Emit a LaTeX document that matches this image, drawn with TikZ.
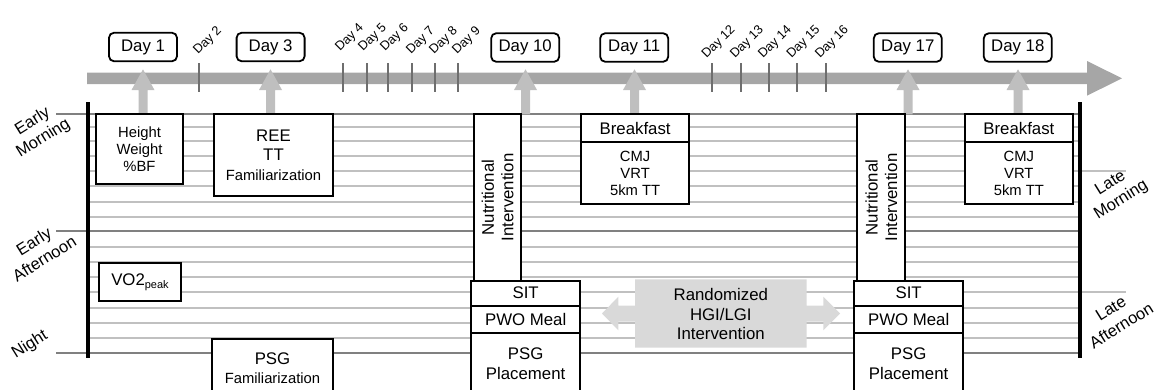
\documentclass[tikz,border=0pt]{standalone}
\usepackage{fontspec}
\setmainfont{Liberation Sans}
\definecolor{gridDark}{RGB}{128,128,128}
\definecolor{gridLight}{RGB}{192,192,192}
\definecolor{bandc}{RGB}{166,166,166}
\definecolor{upc}{RGB}{191,191,191}
\definecolor{rndc}{RGB}{217,217,217}
\definecolor{tickc}{RGB}{110,110,110}
\begin{document}
\begin{tikzpicture}[x=1pt,y=-1pt,
  fbig/.style={font=\fontsize{16.8}{19.5}\selectfont},
  fmid/.style={font=\fontsize{14.8}{17}\selectfont},
  box/.style={draw=black, line width=1.8pt, fill=white, inner sep=0pt, align=center},
  daybox/.style={box, fbig, rounded corners=5pt, minimum width=68pt, minimum height=28.5pt},
  dayrot/.style={rotate=45, anchor=base east, inner sep=0pt, font=\fontsize{12.8}{14}\selectfont},
  sidelab/.style={rotate=32, align=center, inner sep=0pt, font=\fontsize{16.5}{20}\selectfont},
  darkline/.style={draw=gridDark, line width=2pt},
  lightline/.style={draw=gridLight, line width=2pt},
  tickline/.style={draw=tickc, line width=1.8pt},
  bar/.style={draw=black, line width=3.6pt}
]
\useasboundingbox (0,0) rectangle (1154,389);

% horizontal grid lines
\foreach \yy in {127,141,156,186,201.5,216.5,246.5,261.5,277,307.5,322.7,338}
  \draw[lightline] (88,\yy) -- (1080,\yy);
\draw[lightline] (88,171) -- (1126,171);
\draw[lightline] (88,292.3) -- (1126,292.3);
\foreach \yy in {114.3,231,353}
  \draw[darkline] (56,\yy) -- (1080,\yy);

% vertical bars
\coordinate (lbt) at (87.7,102);
\coordinate (lbb) at (87.7,358);
\coordinate (rbt) at (1080,102);
\coordinate (rbb) at (1080,358);
\draw[bar] (lbt) -- (lbb);
\draw[bar] (rbt) -- (rbb);

% timeline band
\fill[bandc] (87,72.5) -- (1087,72.5) -- (1087,61) -- (1122,78.3) -- (1087,95.7) -- (1087,84) -- (87,84) -- cycle;

% ticks
\foreach \tx in {199,343,366.7,388.3,412,435,457.7,712.3,740.7,769,797.3,825.7}
  \draw[tickline] (\tx,63) -- (\tx,92);

% rotated day labels
\node[dayrot] (d2) at (222,31) {Day 2};
\node[dayrot] (d4) at (364,28) {Day 4};
\node[dayrot] (d5) at (387,28) {Day 5};
\node[dayrot] (d6) at (409,28) {Day 6};
\node[dayrot] (d7) at (435,31) {Day 7};
\node[dayrot] (d8) at (458,31) {Day 8};
\node[dayrot] (d9) at (481,31) {Day 9};
\node[dayrot] (d12) at (735.5,30) {Day 12};
\node[dayrot] (d13) at (764,30) {Day 13};
\node[dayrot] (d14) at (792,30) {Day 14};
\node[dayrot] (d15) at (820.5,30) {Day 15};
\node[dayrot] (d16) at (849,30) {Day 16};

% up arrows
\foreach \x in {143,270.5,525.5,634.5,908,1018}
  \fill[upc] (\x-4.5,114.3) -- (\x-4.5,90) -- (\x-11.5,90) -- (\x,69.3) -- (\x+11.5,90) -- (\x+4.5,90) -- (\x+4.5,114.3) -- cycle;

% day boxes
\node[daybox] (day1) at (143,47) {Day 1};
\node[daybox] (day3) at (270.6,47) {Day 3};
\node[daybox] (day10) at (525.2,47.5) {Day 10};
\node[daybox] (day11) at (634.2,47.5) {Day 11};
\node[daybox] (day17) at (907.8,47.5) {Day 17};
\node[daybox] (day18) at (1017.8,47.5) {Day 18};

% day 1
\node[box, fmid, minimum width=87pt, minimum height=69.7pt] (hw) at (139.5,149.2) {Height\\Weight\\\%BF};
\node[box, minimum width=81.4pt, minimum height=38pt, fbig] (vo) at (140,282) {VO2\raisebox{-3pt}{\fontsize{11}{12}\selectfont peak}};
% day 3
\node[box, fbig, minimum width=119.6pt, minimum height=81.7pt] (ree) at (273.5,155.2) {REE\\TT\\{\fontsize{14.8}{17}\selectfont Familiarization}};
\node[box, fbig, minimum width=121pt, minimum height=58pt] (psgf) at (272.5,368.3) {PSG\\{\fontsize{14.8}{17}\selectfont Familiarization}};
% day 10
\node[box, fbig, rotate=90, minimum width=166.4pt, minimum height=47pt] (nut10) at (497.5,197.5) {Nutritional\\Intervention};
\node[box, fbig, minimum width=109.3pt, minimum height=25pt] (sit10) at (525.65,293.2) {SIT};
\node[box, fbig, minimum width=109.3pt, minimum height=27.6pt] (pwo10) at (525.65,319.5) {PWO Meal};
\node[box, fbig, minimum width=109.3pt, minimum height=60.7pt] (psg10) at (525.65,363.65) {PSG\\Placement};
% day 11
\node[box, fbig, minimum width=108.3pt, minimum height=28pt] (bf11) at (635.15,128.3) {Breakfast};
\node[box, fmid, minimum width=108.3pt, minimum height=62pt] (t11) at (635.15,173.3) {CMJ\\VRT\\5km TT};
% day 17
\node[box, fbig, rotate=90, minimum width=166.4pt, minimum height=48pt] (nut17) at (881.3,197.5) {Nutritional\\Intervention};
\node[box, fbig, minimum width=109.3pt, minimum height=25pt] (sit17) at (908.65,293.2) {SIT};
\node[box, fbig, minimum width=109.3pt, minimum height=27.6pt] (pwo17) at (908.65,319.5) {PWO Meal};
\node[box, fbig, minimum width=109.3pt, minimum height=60.7pt] (psg17) at (908.65,363.65) {PSG\\Placement};
% day 18
\node[box, fbig, minimum width=107.7pt, minimum height=28pt] (bf18) at (1018.85,128.3) {Breakfast};
\node[box, fmid, minimum width=107.7pt, minimum height=61.5pt] (t18) at (1018.85,173.05) {CMJ\\VRT\\5km TT};

% randomized double block arrow
\fill[rndc] (602,313.5) -- (618.3,296.7) -- (618.3,305.5) -- (635,305.5) -- (635,279.3) -- (806.7,279.3) -- (806.7,305.5) -- (823.3,305.5) -- (823.3,296.7) -- (840,313.5) -- (823.3,330.3) -- (823.3,321.5) -- (806.7,321.5) -- (806.7,347.7) -- (635,347.7) -- (635,321.5) -- (618.3,321.5) -- (618.3,330.3) -- cycle;
\node[fbig, align=center, inner sep=0pt] (rnd) at (720.8,314) {Randomized\\HGI/LGI\\Intervention};

% side labels
\node[sidelab] (em) at (38,130) {Early\\Morning};
\node[sidelab] (ea) at (39,250) {Early\\Afternoon};
\node[sidelab] (ni) at (30,345) {Night};
\node[sidelab] (lm) at (1116,192) {Late\\Morning};
\node[sidelab] (la) at (1116,317) {Late\\Afternoon};
\end{tikzpicture}
\end{document}
